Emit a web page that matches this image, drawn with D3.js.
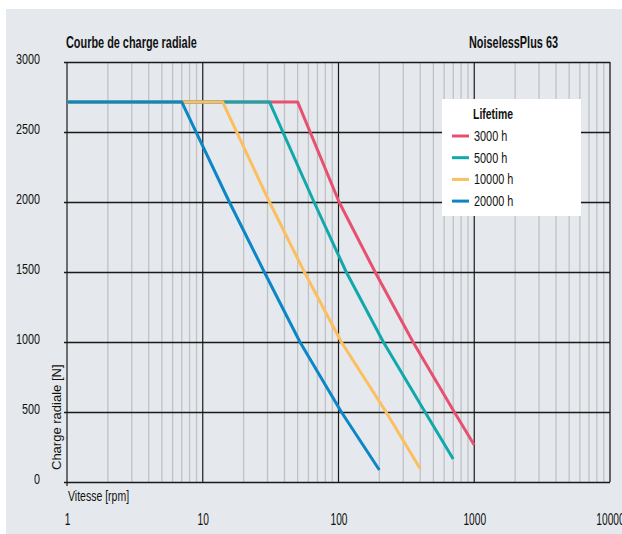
<!DOCTYPE html>
<html>
<head>
<meta charset="utf-8">
<script src="https://cdn.jsdelivr.net/npm/d3@7"></script>
<style>
  body { margin: 0; background: #fff; }
  svg text { font-family: "Liberation Sans", Arial, sans-serif; fill: #111; }
</style>
</head>
<body>
<svg id="chart" width="622" height="534"></svg>
<script>
// values
var series = ["3000 h", "5000 h", "10000 h", "20000 h"];
var colours = ["#e8506f", "#12a8ab", "#fcbe5e", "#0b86c7"];
var rpm = [
  [1, 50, 101, 186, 354, 713, 1000],
  [1, 31, 66, 114, 214, 434, 700],
  [1, 14, 31, 56, 105, 224, 400],
  [1, 7, 15.7, 28.4, 52, 105, 200]
];
var load = [
  [2715, 2715, 2000, 1500, 1000, 500, 264],
  [2715, 2715, 2000, 1500, 1000, 500, 164],
  [2715, 2715, 2000, 1500, 1000, 500, 95],
  [2715, 2715, 2000, 1500, 1000, 500, 86]
];
var yTicks = [0, 500, 1000, 1500, 2000, 2500, 3000];
var xTicks = [1, 10, 100, 1000, 10000];

(function () {
  "use strict";
  var svg = d3.select("#chart"),
    pLeft = 67, pRight = 610, pTop = 62, pBottom = 482,
    x = d3.scaleLog().domain([1, 10000]).range([pLeft, pRight]),
    y = d3.scaleLinear().domain([0, 3000]).range([pBottom, pTop]);

  // squeeze text to mimic the condensed face of the original
  var condense = function (sel, ratio) {
    sel.each(function () {
      var w = this.getComputedTextLength();
      d3.select(this)
        .attr("textLength", w * ratio)
        .attr("lengthAdjust", "spacingAndGlyphs");
    });
  };

  // grey panel
  svg.append("rect")
    .attr("x", 6).attr("y", 9)
    .attr("width", 616).attr("height", 525)
    .attr("fill", "#e5e9ed");

  // minor verticals
  var minor = x.ticks().filter(function (v) {
    return Math.abs(Math.log10(v) - Math.round(Math.log10(v))) > 1e-6;
  });
  svg.append("g").selectAll("line")
    .data(minor)
    .enter().append("line")
    .attr("x1", x).attr("x2", x)
    .attr("y1", pTop).attr("y2", pBottom)
    .attr("stroke", "#bfc2c5")
    .attr("stroke-width", 1.3);

  // decade verticals
  svg.append("g").selectAll("line")
    .data(xTicks)
    .enter().append("line")
    .attr("x1", x).attr("x2", x)
    .attr("y1", pTop)
    .attr("y2", function (d, i) { return i === 0 ? pBottom + 4 : pBottom; })
    .attr("stroke", function (d, i) { return i === 4 ? "#555" : "#1a1a1a"; })
    .attr("stroke-width", function (d, i) { return i === 4 ? 1.8 : 1.2; });

  // y axis: grid lines + labels
  var yAxis = d3.axisLeft(y)
    .tickValues(yTicks)
    .tickSize(-(pRight - pLeft + 3))
    .tickPadding(24)
    .tickFormat(d3.format("d"));
  var yg = svg.append("g")
    .attr("transform", "translate(" + (pLeft - 3) + ",0)")
    .call(yAxis);
  yg.select(".domain").remove();
  yg.selectAll(".tick line").attr("stroke", "#1a1a1a").attr("stroke-width", 1.3);
  yg.selectAll(".tick text")
    .attr("dy", "0.08em")
    .attr("font-size", 15)
    .attr("font-family", null)
    .call(condense, 0.72);

  // x axis labels
  var xAxis = d3.axisBottom(x)
    .tickValues(xTicks)
    .tickSize(0)
    .tickPadding(31)
    .tickFormat(d3.format("d"));
  var xg = svg.append("g")
    .attr("transform", "translate(0," + pBottom + ")")
    .call(xAxis);
  xg.select(".domain").remove();
  xg.selectAll(".tick text")
    .attr("font-size", 17)
    .attr("font-family", null)
    .call(condense, 0.6);

  // curves
  var line = d3.line()
    .x(function (d) { return x(d[0]); })
    .y(function (d) { return y(d[1]); });

  series.forEach(function (name, i) {
    var pts = rpm[i].map(function (r, j) { return [r, load[i][j]]; });
    svg.append("path")
      .datum(pts)
      .attr("d", line)
      .attr("fill", "none")
      .attr("stroke", colours[i])
      .attr("stroke-width", 3)
      .attr("stroke-linejoin", "round");
  });

  // titles
  svg.append("text")
    .attr("x", 66).attr("y", 48)
    .attr("font-size", 16.5).attr("font-weight", "bold")
    .text("Courbe de charge radiale")
    .call(condense, 0.66);
  svg.append("text")
    .attr("x", 558).attr("y", 48)
    .attr("text-anchor", "end")
    .attr("font-size", 16.5).attr("font-weight", "bold")
    .text("NoiselessPlus 63")
    .call(condense, 0.66);
  svg.append("text")
    .attr("x", 68).attr("y", 501)
    .attr("font-size", 15)
    .text("Vitesse [rpm]")
    .call(condense, 0.7);
  svg.append("text")
    .attr("transform", "translate(61,470) rotate(-90)")
    .attr("font-size", 13)
    .text("Charge radiale [N]");

  // legend
  var lg = svg.append("g");
  lg.append("rect")
    .attr("x", 442).attr("y", 99)
    .attr("width", 139).attr("height", 117)
    .attr("fill", "#fff");
  lg.append("text")
    .attr("x", 473).attr("y", 119)
    .attr("font-size", 14.5).attr("font-weight", "bold")
    .text("Lifetime")
    .call(condense, 0.72);
  series.forEach(function (name, i) {
    var cy = 136 + i * 21.7;
    lg.append("line")
      .attr("x1", 452).attr("x2", 469)
      .attr("y1", cy).attr("y2", cy)
      .attr("stroke", colours[i])
      .attr("stroke-width", 3);
    lg.append("text")
      .attr("x", 474).attr("y", cy + 5)
      .attr("font-size", 14.5)
      .text(name)
      .call(condense, 0.75);
  });
}());
</script>
</body>
</html>
